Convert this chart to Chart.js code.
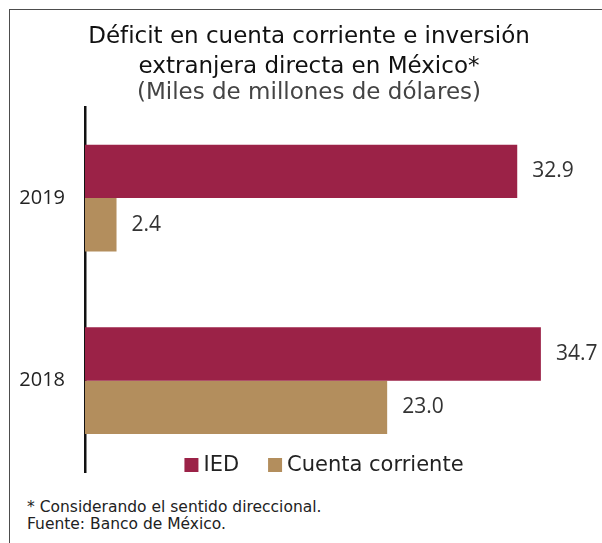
<!DOCTYPE html>
<html lang="es">
<head>
<meta charset="utf-8">
<script src="https://cdn.jsdelivr.net/npm/chart.js@4.4.1/dist/chart.umd.min.js"></script>
<style>
  html, body { margin: 0; padding: 0; background: #fff; }
  body { width: 602px; height: 543px; position: relative; overflow: hidden; font-family: "DejaVu Sans", sans-serif; }
  .marco { position: absolute; left: 9px; top: 9px; width: 593px; height: 534px; border-left: 1px solid #4d4d4d; border-top: 1px solid #4d4d4d; box-sizing: border-box; }
  #chartBar { position: absolute; left: 10px; top: 10px; }
  .notas { position: absolute; left: 27px; top: 499px; font-size: 15.5px; line-height: 17px; color: #222; }
</style>
</head>
<body>
<div class="marco"></div>
<canvas id="chartBar" width="590" height="478"></canvas>
<div class="notas">
  <div>* Considerando el sentido direccional.</div>
  <div>Fuente: Banco de México.</div>
</div>
<script>
// Datos (miles de millones de dólares)
var anios = ["2019", "2018"];
var valoresIED = [32.9, 34.7];
var valoresCuenta = [2.4, 23.0];
var nombresSeries = ["IED", "Cuenta corriente"];
var coloresSeries = ["#9B2247", "#B38E5D"];

var fuenteTexto = "'DejaVu Sans', sans-serif";
var fuenteNumeros = "'Open Sans', sans-serif";

// Etiqueta con el valor al final de cada barra
var etiquetasValor = {
  id: "etiquetasValor",
  afterDatasetsDraw: function (chart) {
    var ctx = chart.ctx;
    ctx.save();
    ctx.font = "21px " + fuenteNumeros;
    ctx.fillStyle = "#333";
    ctx.textAlign = "left";
    ctx.textBaseline = "middle";
    chart.data.datasets.forEach(function (ds, i) {
      chart.getDatasetMeta(i).data.forEach(function (bar, j) {
        ctx.fillText(ds.data[j].toFixed(1), bar.x + 15, bar.y);
      });
    });
    ctx.restore();
  },
};

// Leyenda dibujada dentro del área libre, abajo a la derecha
var leyenda = {
  id: "leyenda",
  afterDraw: function (chart) {
    var ctx = chart.ctx;
    var caja = 14, sep = 5, hueco = 29, centro = 314, y = 455;
    ctx.save();
    ctx.font = "21px " + fuenteTexto;
    ctx.textBaseline = "middle";
    var anchos = chart.data.datasets.map(function (ds) {
      return caja + sep + ctx.measureText(ds.label).width;
    });
    var total = anchos.reduce(function (a, b) { return a + b; }, 0) + hueco * (anchos.length - 1);
    var x = centro - total / 2;
    chart.data.datasets.forEach(function (ds, i) {
      ctx.fillStyle = ds.backgroundColor;
      ctx.fillRect(x, y - caja / 2, caja, caja);
      ctx.fillStyle = "#222";
      ctx.fillText(ds.label, x + caja + sep, y + 1);
      x += anchos[i] + hueco;
    });
    ctx.restore();
  },
};

new Chart(document.getElementById("chartBar"), {
  type: "bar",
  data: {
    labels: anios,
    datasets: [
      { label: nombresSeries[0], data: valoresIED, backgroundColor: coloresSeries[0] },
      { label: nombresSeries[1], data: valoresCuenta, backgroundColor: coloresSeries[1] },
    ],
  },
  options: {
    indexAxis: "y",
    responsive: false,
    animation: false,
    datasets: {
      bar: { categoryPercentage: 0.585, barPercentage: 1.0 },
    },
    layout: {
      padding: { left: 8, right: 0, top: 0, bottom: 16 },
    },
    scales: {
      x: {
        display: false,
        border: { display: false },
        min: 0,
        max: 39.2,
      },
      y: {
        afterFit: function (scale) {
          // ancho fijo del eje y sin reservar espacio extra para las etiquetas
          scale.width = 67;
          scale.paddingTop = 0;
          scale.paddingBottom = 0;
        },
        grid: { display: false, drawTicks: false },
        border: { display: true, color: "#111", width: 2.5 },
        ticks: {
          padding: 20,
          color: "#222",
          font: { family: fuenteNumeros, size: 20 },
        },
      },
    },
    plugins: {
      legend: { display: false },
      tooltip: { enabled: false },
      title: {
        display: true,
        text: ["Déficit en cuenta corriente e inversión", "extranjera directa en México*"],
        color: "#111",
        font: { family: fuenteTexto, size: 23, weight: "normal", lineHeight: 1.3 },
        padding: { top: 12, bottom: 0 },
      },
      subtitle: {
        display: true,
        text: "(Miles de millones de dólares)",
        color: "#444",
        font: { family: fuenteTexto, size: 23, weight: "normal", lineHeight: 1.0 },
        padding: { top: 0, bottom: 2 },
      },
    },
  },
  plugins: [etiquetasValor, leyenda],
});
</script>
</body>
</html>
